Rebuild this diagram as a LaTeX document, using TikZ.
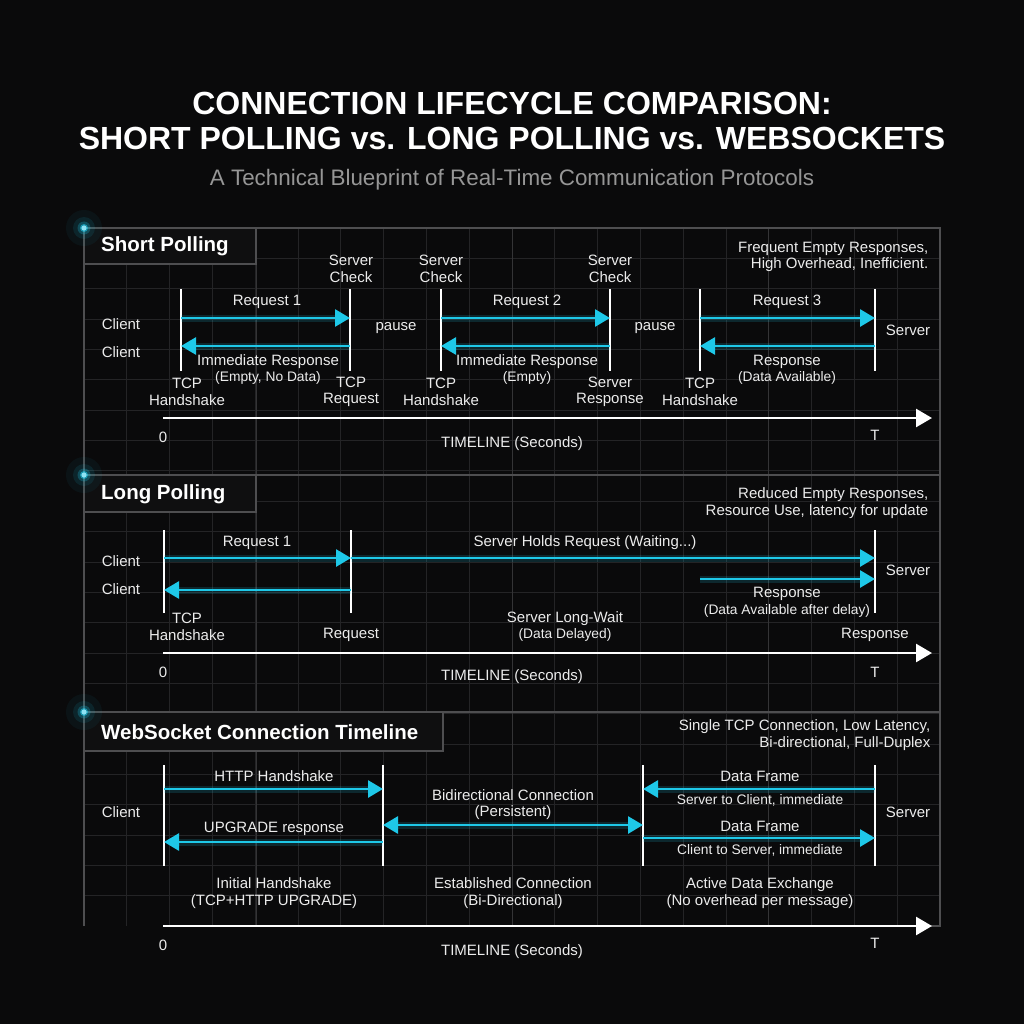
\documentclass[tikz,border=0pt]{standalone}
\usepackage{fontspec}
\setmainfont{Liberation Sans}
\usetikzlibrary{arrows.meta}
\definecolor{bg}{RGB}{10,10,11}
\definecolor{cy}{RGB}{30,200,232}
\definecolor{gridc}{RGB}{36,36,38}
\definecolor{gridm}{RGB}{52,52,54}
\definecolor{bord}{RGB}{78,78,80}
\definecolor{txt}{RGB}{236,236,236}
\definecolor{subc}{RGB}{150,150,150}
\begin{document}
\begin{tikzpicture}[x=1pt,y=-1pt,
  lbl/.style={text=txt, font=\fontsize{15}{16.5}\selectfont, align=center, inner sep=0.5pt},
  sml/.style={text=txt, font=\fontsize{13.8}{15}\selectfont, align=center, inner sep=0.5pt},
  note/.style={lbl, align=right, anchor=east},
  ptitle/.style={text=white, font=\bfseries\fontsize{20.5}{24}\selectfont, anchor=west, inner sep=0pt},
  tbox/.style={draw=bord, line width=1.2pt, fill=bg!80!gridc},
  life/.style={draw=white, line width=2.4pt},
  glow/.style={draw=cy, draw opacity=0.16, line width=7pt},
  msg/.style={draw=cy, line width=2.8pt, -{Triangle[length=15pt,width=17pt]},
     preaction={glow, -, shorten >=12pt}},
  msgb/.style={draw=cy, line width=2.8pt, {Triangle[length=15pt,width=17pt]}-{Triangle[length=15pt,width=17pt]},
     preaction={glow, -, shorten >=12pt, shorten <=12pt}},
  tline/.style={draw=white, line width=2.6pt, -{Triangle[length=16pt,width=18pt]}},
]
% background
\fill[bg] (0,0) rectangle (1024,1024);
\useasboundingbox (0,0) rectangle (1024,1024);

% grid
\foreach \i in {1,...,19} \draw[gridc, line width=0.7pt] (84+\i*42.8,228) -- (84+\i*42.8,926);
\foreach \j in {1,...,22} \draw[gridc, line width=0.7pt] (84,228+\j*30.35) -- (940,228+\j*30.35);
\foreach \xx in {256,512,768} \draw[gridm, line width=0.8pt] (\xx,228) -- (\xx,926);

% panel borders
\draw[bord, line width=1.2pt] (84,926) -- (84,228) -- (940,228) -- (940,926) -- (163,926);
\draw[bord, line width=1.2pt] (84,475) -- (940,475);
\draw[bord, line width=1.2pt] (84,712) -- (940,712);

% title
\node[text=white, font=\bfseries\fontsize{32}{36}\selectfont] (t1) at (512,103) {CONNECTION LIFECYCLE COMPARISON:};
\node[text=white, font=\bfseries\fontsize{32}{36}\selectfont] (t2) at (512,138) {SHORT POLLING vs. LONG POLLING vs. WEBSOCKETS};
\node[text=subc, font=\fontsize{22.4}{25}\selectfont] (t3) at (512,180) {A Technical Blueprint of Real-Time Communication Protocols};

% title boxes
\draw[tbox] (84,228) rectangle (256,264);
\draw[tbox] (84,475) rectangle (256,512);
\draw[tbox] (84,712) rectangle (443,751);

% glow dots
\foreach \yy/\nm in {228/d1,475/d2,712/d3}{
  \fill[cy, opacity=0.05] (84,\yy) circle (18);
  \fill[cy, opacity=0.10] (84,\yy) circle (11);
  \fill[cy, opacity=0.25] (84,\yy) circle (6.5);
  \fill[cy, opacity=0.6] (84,\yy) circle (4);
  \fill[cy!50!white] (84,\yy) circle (2.6);
  \coordinate (\nm) at (84,\yy);
}

% ================= Short Polling =================
\node[ptitle] (sp) at (101,246) {Short Polling};
\node[note] (spn) at (929,257) {Frequent Empty Responses,\\High Overhead, Inefficient.};

\foreach \xx/\nm in {181/a,350/b,441/c,610/d,700/e,875/f}{
  \coordinate (sp\nm t) at (\xx,289);
  \coordinate (sp\nm b) at (\xx,371);
  \coordinate (sp\nm q) at (\xx,318);
  \coordinate (sp\nm r) at (\xx,346);
  \draw[life] (sp\nm t) -- (sp\nm b);
}
\draw[msg] (spaq) -- (spbq);
\draw[msg] (spbr) -- (spar);
\draw[msg] (spcq) -- (spdq);
\draw[msg] (spdr) -- (spcr);
\draw[msg] (speq) -- (spfq);
\draw[msg] (spfr) -- (sper);

\node[lbl] (spc1) at (121,324) {Client};
\node[lbl] (spc2) at (121,352) {Client};
\node[lbl] (spr1) at (267,302) {Request 1};
\node[lbl] (spi1) at (268,362) {Immediate Response};
\node[sml] (spi1b) at (268,378) {(Empty, No Data)};
\node[lbl] (spsc1) at (351,269) {Server\\Check};
\node[lbl] (sptr) at (351,392) {TCP\\Request};
\node[lbl] (spth1) at (187,392) {TCP\\Handshake};
\node[lbl] (spp1) at (396,328) {pause};
\node[lbl] (spsc2) at (441,269) {Server\\Check};
\node[lbl] (spr2) at (527,302) {Request 2};
\node[lbl] (spi2) at (527,362) {Immediate Response};
\node[sml] (spi2b) at (527,378) {(Empty)};
\node[lbl] (spth2) at (441,392) {TCP\\Handshake};
\node[lbl] (spsc3) at (610,269) {Server\\Check};
\node[lbl] (spsr) at (610,392) {Server\\Response};
\node[lbl] (spp2) at (655,328) {pause};
\node[lbl] (spr3) at (787,302) {Request 3};
\node[lbl] (spi3) at (787,362) {Response};
\node[sml] (spi3b) at (787,378) {(Data Available)};
\node[lbl] (spth3) at (700,392) {TCP\\Handshake};
\node[lbl] (spsv) at (908,330) {Server};

\coordinate (sptl0) at (163,418);
\coordinate (sptl1) at (932,418);
\draw[tline] (sptl0) -- (sptl1);
\node[lbl] (sp0) at (163,437) {0};
\node[lbl] (spT) at (875,435) {T};
\node[lbl] (spTL) at (512,444) {TIMELINE (Seconds)};

% ================= Long Polling =================
\node[ptitle] (lp) at (101,494) {Long Polling};
\node[note] (lpn) at (929,503) {Reduced Empty Responses,\\Resource Use, latency for update};

\foreach \xx/\nm in {164/a,351/b,875/c}{
  \coordinate (lp\nm t) at (\xx,530);
  \coordinate (lp\nm b) at (\xx,613);
  \coordinate (lp\nm q) at (\xx,558);
  \coordinate (lp\nm r) at (\xx,590);
  \draw[life] (lp\nm t) -- (lp\nm b);
}
\coordinate (lpds) at (700,579);
\coordinate (lpde) at (875,579);
\draw[msg] (lpaq) -- (lpbq);
\draw[msg] (lpbq) -- (lpcq);
\draw[msg] (lpbr) -- (lpar);
\draw[msg] (lpds) -- (lpde);

\node[lbl] (lpc1) at (121,561) {Client};
\node[lbl] (lpc2) at (121,589) {Client};
\node[lbl] (lpr1) at (257,543) {Request 1};
\node[lbl] (lphold) at (585,543) {Server Holds Request (Waiting...)};
\node[lbl] (lpth) at (187,627) {TCP\\Handshake};
\node[lbl] (lpreq) at (351,635) {Request};
\node[lbl] (lpw) at (565,619) {Server Long-Wait};
\node[sml] (lpwb) at (565,635) {(Data Delayed)};
\node[lbl] (lpresp) at (787,594) {Response};
\node[sml] (lprespb) at (787,611) {(Data Available after delay)};
\node[lbl] (lpsv) at (908,570) {Server};
\node[lbl] (lpresp2) at (875,635) {Response};

\coordinate (lptl0) at (163,653);
\coordinate (lptl1) at (932,653);
\draw[tline] (lptl0) -- (lptl1);
\node[lbl] (lp0) at (163,672) {0};
\node[lbl] (lpT) at (875,672) {T};
\node[lbl] (lpTL) at (512,677) {TIMELINE (Seconds)};

% ================= WebSocket =================
\node[ptitle] (ws) at (101,732) {WebSocket Connection Timeline};
\node[note] (wsn) at (931,735) {Single TCP Connection, Low Latency,\\Bi-directional, Full-Duplex};

\foreach \xx/\nm in {164/a,383/b,643/c,875/d}{
  \coordinate (ws\nm t) at (\xx,765);
  \coordinate (ws\nm b) at (\xx,866);
  \coordinate (ws\nm h) at (\xx,789);
  \coordinate (ws\nm m) at (\xx,825);
  \coordinate (ws\nm k) at (\xx,838);
  \coordinate (ws\nm u) at (\xx,842);
  \draw[life] (ws\nm t) -- (ws\nm b);
}
\draw[msg] (wsah) -- (wsbh);
\draw[msg] (wsbu) -- (wsau);
\draw[msgb] (wsbm) -- (wscm);
\draw[msg] (wsdh) -- (wsch);
\draw[msg] (wsck) -- (wsdk);

\node[lbl] (wshh) at (274,776) {HTTP Handshake};
\node[lbl] (wsup) at (274,829) {UPGRADE response};
\node[lbl] (wscl) at (121,812) {Client};
\node[lbl] (wsbi) at (513,804.5) {Bidirectional Connection\\(Persistent)};
\node[lbl] (wsdf1) at (760,776) {Data Frame};
\node[sml] (wsdf1b) at (760,800) {Server to Client, immediate};
\node[lbl] (wsdf2) at (760,826) {Data Frame};
\node[sml] (wsdf2b) at (760,850) {Client to Server, immediate};
\node[lbl] (wssv) at (908,812) {Server};
\node[lbl] (wsih) at (274,893) {Initial Handshake\\(TCP+HTTP UPGRADE)};
\node[lbl] (wsec) at (513,893) {Established Connection\\(Bi-Directional)};
\node[lbl] (wsad) at (760,893) {Active Data Exchange\\(No overhead per message)};

\coordinate (wstl0) at (163,926);
\coordinate (wstl1) at (932,926);
\draw[tline] (wstl0) -- (wstl1);
\node[lbl] (ws0) at (163,945) {0};
\node[lbl] (wsT) at (875,943) {T};
\node[lbl] (wsTL) at (512,952) {TIMELINE (Seconds)};
\end{tikzpicture}
\end{document}
